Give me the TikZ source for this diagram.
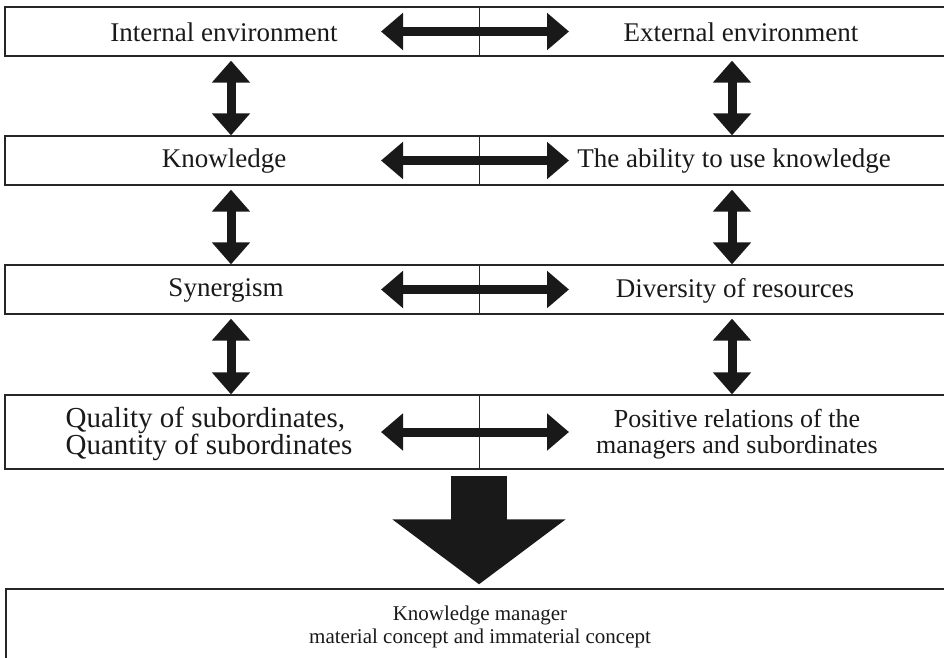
\documentclass[tikz,border=0pt]{standalone}
\usepackage{fontspec}
\setmainfont{Liberation Serif}
\usetikzlibrary{arrows.meta}

\begin{document}
\begin{tikzpicture}[x=1pt,y=-1pt]
% Define styles for nodes and edges
\tikzstyle{rowbox} = [rectangle, draw=black!85, line width=1.3pt, minimum width=955pt, inner sep=0pt]
\tikzstyle{celltext} = [font=\fontsize{27}{27}\selectfont, text=black!90, inner sep=0pt]
\tikzstyle{twoline} = [font=\fontsize{26}{26}\selectfont, text=black!90, inner sep=0pt]
\tikzstyle{smalltext} = [font=\fontsize{21}{23}\selectfont, text=black!90, inner sep=0pt, align=center]
\tikzstyle{divider} = [draw=black!85, line width=1pt]
\tikzstyle{harrow} = [line width=9pt, draw=black!90, {Triangle[length=22pt,width=36pt]}-{Triangle[length=22pt,width=36pt]}]
\tikzstyle{varrow} = [line width=9pt, draw=black!90, {Triangle[length=22pt,width=37pt]}-{Triangle[length=22pt,width=37pt]}]
\tikzstyle{bigarrow} = [line width=56pt, draw=black!90, -{Triangle[length=65pt,width=170pt]}]

\useasboundingbox (0,0) rectangle (944,657);
\clip (0,0) rectangle (944,657);

% Columns
\coordinate (mid) at (479,0);
\coordinate (colL) at (231,0);
\coordinate (colR) at (732,0);
\coordinate (hL) at (381,0);
\coordinate (hR) at (569,0);

% Rows
\node[rowbox, minimum height=49pt] (row1) at (482.5,31.5) {};
\node[rowbox, minimum height=49pt] (row2) at (482.5,160.5) {};
\node[rowbox, minimum height=49pt] (row3) at (482.5,289.5) {};
\node[rowbox, minimum height=74pt] (row4) at (482.5,432) {};
\node[rowbox, minimum height=81pt, minimum width=954pt] (kbox) at (483,629.5) {};

\foreach \r in {row1,row2,row3,row4}
  \draw[divider] (mid |- \r.north) -- (mid |- \r.south);

% Texts
\node[celltext] (left1) at (224,32.5) {Internal environment};
\node[celltext] (right1) at (741,32.5) {External environment};
\node[celltext] (left2) at (224,161.5) {Knowledge};
\node[celltext] (right2) at (734,161.5) {The ability to use knowledge};
\node[celltext] (left3) at (226,290.5) {Synergism};
\node[celltext] (right3) at (735,290.5) {Diversity of resources};
\node[twoline, font=\fontsize{29}{26}\selectfont, align=left] (left4) at (209,434) {Quality of subordinates,\\Quantity of subordinates};
\node[twoline, align=center] (right4) at (737,434) {Positive relations of the\\managers and subordinates};
\node[smalltext] (kman) at (480,627) {Knowledge manager\\material concept and immaterial concept};

% Edges
\foreach \r in {row1,row2,row3,row4}
  \draw[harrow] (hL |- \r) -- (hR |- \r);
\draw[varrow] ([yshift=-4pt]colL |- row1.south) -- (colL |- row2.north);
\draw[varrow] ([yshift=-4pt]colR |- row1.south) -- (colR |- row2.north);
\draw[varrow] ([yshift=-4pt]colL |- row2.south) -- (colL |- row3.north);
\draw[varrow] ([yshift=-4pt]colR |- row2.south) -- (colR |- row3.north);
\draw[varrow] ([yshift=-4pt]colL |- row3.south) -- (colL |- row4.north);
\draw[varrow] ([yshift=-4pt]colR |- row3.south) -- (colR |- row4.north);
\draw[bigarrow] ([yshift=-6pt]mid |- row4.south) -- ([yshift=4pt]kbox.north -| mid);
\end{tikzpicture}
\end{document}
